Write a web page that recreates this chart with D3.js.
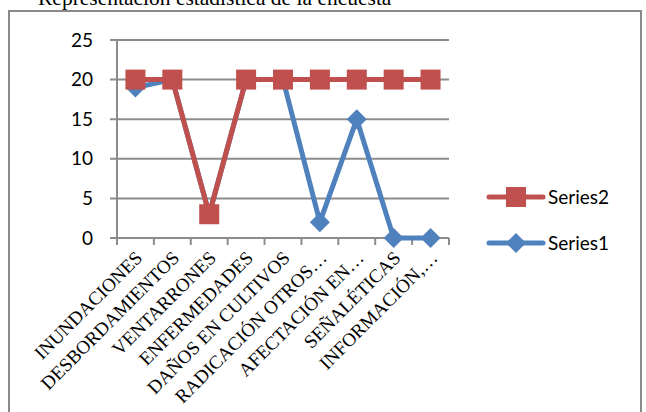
<!DOCTYPE html>
<html><head><meta charset="utf-8">
<script src="https://cdnjs.cloudflare.com/ajax/libs/d3/7.8.5/d3.min.js"></script>
<style>html,body{margin:0;padding:0;background:#fff;}svg{display:block;}</style>
</head><body>
<script>
const title = "Representación estadística de la encuesta";
const categories = ["INUNDACIONES","DESBORDAMIENTOS","VENTARRONES","ENFERMEDADES","DAÑOS EN CULTIVOS","RADICACIÓN OTROS…","AFECTACIÓN EN…","SEÑALÉTICAS","INFORMACIÓN,…"];
const series1 = [19,20,3,20,20,2,15,0,0];
const series2 = [20,20,3,20,20,20,20,20,20];
const yTicks = [0,5,10,15,20,25];
const seriesNames = ["Series1","Series2"];
const colors = {Series1:"#4F81BD", Series2:"#C0504D"};

const W=646,H=412;
const svg=d3.select("body").append("svg").attr("width",W).attr("height",H);
svg.append("rect").attr("x",9).attr("y",11).attr("width",632).attr("height",420)
  .attr("fill","#fff").attr("stroke","#8a8a8a").attr("stroke-width",2);
svg.append("text").attr("x",38).attr("y",5).attr("font-family","Liberation Serif")
  .attr("font-size",21.5).attr("fill","#000").text(title);

const x=d3.scaleBand().domain(categories).range([117,449]);
const y=d3.scaleLinear().domain([0,25]).range([238,40]);

svg.append("g").selectAll("line").data(yTicks).join("line")
  .attr("x1",110).attr("x2",449).attr("y1",d=>y(d)).attr("y2",d=>y(d))
  .attr("stroke","#8c8c8c").attr("stroke-width",2);
svg.append("line").attr("x1",117).attr("x2",117).attr("y1",y(25)).attr("y2",y(0))
  .attr("stroke","#8c8c8c").attr("stroke-width",2);
svg.append("g").selectAll("text").data(yTicks).join("text")
  .attr("x",93).attr("y",d=>y(d)).attr("dy","0.35em").attr("text-anchor","end")
  .attr("font-family","Lato").attr("font-size",19).attr("fill","#000").text(d=>d);
const bounds=categories.map(c=>x(c)).concat([x.range()[1]]);
svg.append("g").selectAll("line").data(bounds).join("line")
  .attr("x1",d=>d).attr("x2",d=>d).attr("y1",238).attr("y2",245)
  .attr("stroke","#8c8c8c").attr("stroke-width",2);
svg.append("g").selectAll("text").data(categories).join("text")
  .attr("transform",d=>`translate(${x(d)+x.bandwidth()/2},251) rotate(-45)`)
  .attr("text-anchor","end").attr("dy","0.6em")
  .attr("font-family","Liberation Serif").attr("font-size",19).attr("fill","#000").text(d=>d);

const line=d3.line().x((d,i)=>x(categories[i])+x.bandwidth()/2).y(d=>y(d));
function drawSeries(vals,name,shape){
  const g=svg.append("g");
  g.append("path").attr("d",line(vals)).attr("fill","none").attr("stroke",colors[name])
    .attr("stroke-width",5).attr("stroke-linejoin","round");
  g.selectAll("path.m").data(vals).join("path").attr("class","m")
    .attr("d",shape).attr("fill",colors[name])
    .attr("transform",(d,i)=>`translate(${x(categories[i])+x.bandwidth()/2},${y(d)})`);
}
const diamond="M0,-10L10,0L0,10L-10,0Z";
const square="M-10,-10H10V10H-10Z";
drawSeries(series1,"Series1",diamond);
drawSeries(series2,"Series2",square);

const leg=[{name:"Series2",y:197,shape:square},{name:"Series1",y:243,shape:diamond}];
const lg=svg.append("g").selectAll("g").data(leg).join("g");
lg.append("line").attr("x1",489).attr("x2",543).attr("y1",d=>d.y).attr("y2",d=>d.y)
  .attr("stroke",d=>colors[d.name]).attr("stroke-width",5).attr("stroke-linecap","round");
lg.append("path").attr("d",d=>d.shape).attr("fill",d=>colors[d.name])
  .attr("transform",d=>`translate(516,${d.y})`);
lg.append("text").attr("x",548).attr("y",d=>d.y).attr("dy","0.35em")
  .attr("font-family","Lato").attr("font-size",19).attr("fill","#000").text(d=>d.name);
</script>
</body></html>
